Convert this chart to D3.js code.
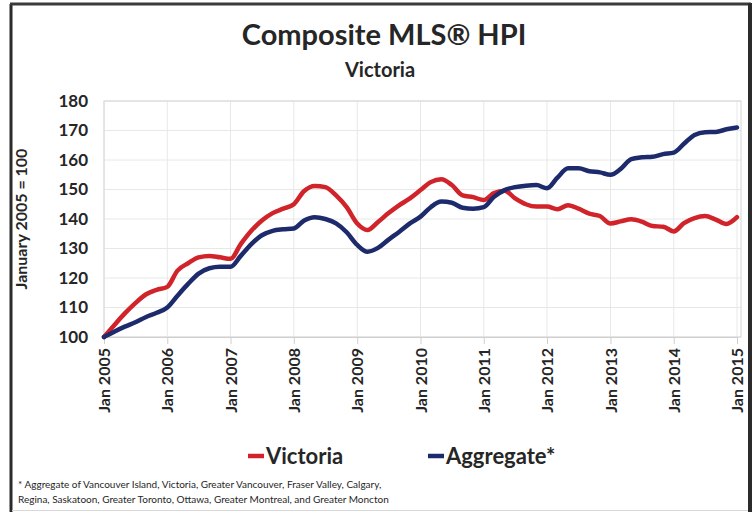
<!DOCTYPE html>
<html lang="en">
<head>
<meta charset="UTF-8">
<script src="https://d3js.org/d3.v7.min.js"></script>
<style>
  body { margin: 0; background: #fff; }
  svg { display: block; font-family: Lato, "Open Sans", sans-serif; }
</style>
</head>
<body>
<svg width="754" height="512"></svg>
<script>
// every second month, Jan 2005 .. Jan 2015
const months = d3.timeMonth.every(2).range(new Date(2005, 0, 1), new Date(2015, 0, 2));

const victoria = [
  100, 104, 108, 111.5, 114.5, 116, 117, 122.5, 125, 127, 127.5, 127,
  126.5, 131.5, 136, 139.5, 142, 143.5, 145, 149.5, 151.2, 150.8, 148, 144,
  138.5, 136.3, 139, 142, 144.7, 147, 149.8, 152.5, 153.5, 151.5, 148, 147.4,
  146.4, 148.8, 149.6, 147, 145, 144.2, 144.2, 143.3, 144.7, 143.5, 141.8, 141,
  138.5, 139.2, 139.9, 139.1, 137.6, 137.4, 135.8, 138.6, 140.3, 141, 139.8, 138.3,
  140.6
];
const aggregate = [
  100, 101.8, 103.5, 105, 106.8, 108.2, 110, 114, 118, 121.5, 123.3, 123.8,
  123.8, 127.5, 131.5, 134.5, 136, 136.5, 136.8, 139.5, 140.6, 140, 138.5, 135.5,
  131.2, 128.9, 130.2, 133, 135.7, 138.5, 140.8, 144, 145.9, 145.5, 143.8, 143.5,
  144, 147.5, 149.8, 150.8, 151.3, 151.5, 150.4, 154, 157.2, 157.2, 156.2, 155.8,
  155, 157, 160.3, 160.9, 161.1, 162, 162.5, 165.5, 168.5, 169.4, 169.5, 170.4,
  171
];
const yTicks = [100, 110, 120, 130, 140, 150, 160, 170, 180];
const xTicks = d3.range(2005, 2016).map(y => new Date(y, 0, 1));
const seriesNames = ["Victoria", "Aggregate*"];
const seriesColors = ["#d1232a", "#1d2b6c"];
const footnote = [
  "* Aggregate of Vancouver Island, Victoria, Greater Vancouver, Fraser Valley, Calgary,",
  "Regina, Saskatoon, Greater Toronto, Ottawa, Greater Montreal, and Greater Moncton"
];

const svg = d3.select("svg");
const x = d3.scaleTime().domain([new Date(2005, 0, 1), new Date(2015, 0, 1)]).range([104, 737]);
const y = d3.scaleLinear().domain([100, 180]).range([337, 101]);

// outer frame
svg.append("rect").attr("x", 0).attr("y", 0).attr("width", 754).attr("height", 512).attr("fill", "#fff");
svg.append("line").attr("x1", 11).attr("x2", 11).attr("y1", 4).attr("y2", 512).attr("stroke", "#2b2b2b").attr("stroke-width", 3);
svg.append("line").attr("x1", 10).attr("x2", 751).attr("y1", 4).attr("y2", 4).attr("stroke", "#3a3a3a").attr("stroke-width", 3);
svg.append("line").attr("x1", 750).attr("x2", 750).attr("y1", 3).attr("y2", 512).attr("stroke", "#2b2b2b").attr("stroke-width", 4);
svg.append("line").attr("x1", 12).attr("x2", 748).attr("y1", 510.5).attr("y2", 510.5).attr("stroke", "#d8d8d8").attr("stroke-width", 1);

// titles
svg.append("text").attr("x", 384).attr("y", 45).attr("text-anchor", "middle")
  .attr("font-size", 29).attr("font-weight", "bold").attr("fill", "#262626")
  .text("Composite MLS® HPI");
svg.append("text").attr("x", 380).attr("y", 77).attr("text-anchor", "middle")
  .attr("font-size", 20).attr("font-weight", "bold").attr("fill", "#262626")
  .text("Victoria");

// grid
const grid = svg.append("g");
grid.selectAll(".hg").data(yTicks).enter().append("line")
  .attr("x1", 104).attr("x2", 741).attr("y1", d => y(d)).attr("y2", d => y(d))
  .attr("stroke", "#e6e8e8").attr("stroke-width", 1);
grid.selectAll(".vg").data(xTicks).enter().append("line")
  .attr("x1", d => x(d)).attr("x2", d => x(d)).attr("y1", 101).attr("y2", 337)
  .attr("stroke", "#e6e8e8").attr("stroke-width", 1);
svg.append("rect").attr("x", 104).attr("y", 101).attr("width", 637).attr("height", 236)
  .attr("fill", "none").attr("stroke", "#d6d6d6").attr("stroke-width", 1);

// axes
const yAxis = svg.append("g").attr("transform", "translate(104,0)")
  .call(d3.axisLeft(y).tickValues(yTicks).tickSize(0).tickPadding(16));
yAxis.select(".domain").remove();
yAxis.selectAll("text").attr("font-size", 17).attr("font-weight", "bold").attr("fill", "#262626")
  .attr("font-family", "Lato, sans-serif");

const xAxis = svg.append("g").attr("transform", "translate(0,337)")
  .call(d3.axisBottom(x).tickValues(xTicks).tickSize(7).tickFormat(d3.timeFormat("Jan %Y")));
xAxis.select(".domain").attr("stroke", "#cfcfcf");
xAxis.selectAll("line").attr("stroke", "#cfcfcf");
xAxis.selectAll("text").attr("font-size", 16).attr("font-weight", "bold").attr("fill", "#262626")
  .attr("font-family", "Lato, sans-serif")
  .attr("transform", "rotate(-90)").attr("text-anchor", "end")
  .attr("x", -11).attr("y", 0).attr("dy", "0.35em");

svg.append("text").attr("transform", "translate(27,219) rotate(-90)").attr("text-anchor", "middle")
  .attr("font-size", 16).attr("font-weight", "bold").attr("fill", "#262626")
  .text("January 2005 = 100");

// lines
const line = d3.line().x((d, i) => x(months[i])).y(d => y(d)).curve(d3.curveMonotoneX);
[victoria, aggregate].forEach((vals, k) => {
  svg.append("path").datum(vals).attr("d", line).attr("fill", "none")
    .attr("stroke", seriesColors[k]).attr("stroke-width", 4.5)
    .attr("stroke-linejoin", "round").attr("stroke-linecap", "round");
});

// legend
const legX = [248, 428];
seriesNames.forEach((n, k) => {
  const g = svg.append("g").attr("transform", `translate(${legX[k]},456)`);
  g.append("line").attr("x1", 0).attr("x2", 16).attr("y1", 0).attr("y2", 0)
    .attr("stroke", seriesColors[k]).attr("stroke-width", 4.5);
  g.append("text").attr("x", 18).attr("y", 8).attr("font-size", 22).attr("font-weight", "bold")
    .attr("fill", "#262626").text(n);
});

// footnote
svg.selectAll(".fn").data(footnote).enter().append("text")
  .attr("x", 18).attr("y", (d, i) => 488 + i * 15)
  .attr("font-size", 10).attr("fill", "#262626").text(d => d);
</script>
</body>
</html>
